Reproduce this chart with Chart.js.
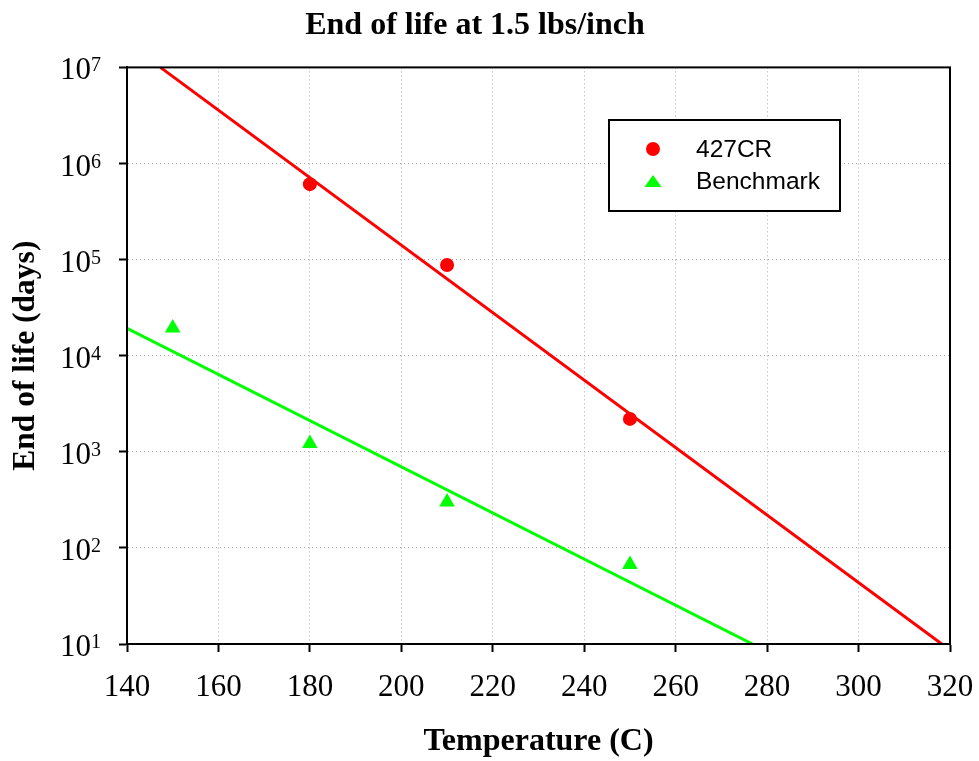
<!DOCTYPE html>
<html>
<head>
<meta charset="utf-8">
<script src="https://cdn.jsdelivr.net/npm/chart.js@4/dist/chart.umd.min.js"></script>
<style>
  html, body { margin: 0; padding: 0; background: #fff; }
  #wrap { width: 979px; height: 761px; }
</style>
</head>
<body>
<div id="wrap"><canvas id="graph" width="979" height="761"></canvas></div>
<script>
// measured points
const crTemps = [180, 210, 250];
const crLife = [610000, 88000, 2200];
const benchTemps = [150, 180, 210, 250];
const benchLife = [19400, 1220, 300, 67];

// fitted lines (end points)
const crFitTemps = [147.3, 318.2];
const crFitLife = [1e7, 10];
const benchFitTemps = [140, 276.8];
const benchFitLife = [19300, 10];

const yDecades = [10, 100, 1000, 10000, 100000, 1000000, 10000000];
const xTicks = [140, 160, 180, 200, 220, 240, 260, 280, 300, 320];

const serif = '"Liberation Serif", "Times New Roman", serif';
const sans = '"Liberation Sans", Arial, sans-serif';

const toPoints = (xs, ys) => xs.map((x, i) => ({ x: x, y: ys[i] }));

// y labels as 10 with a raised exponent
const powerLabels = {
  id: 'powerLabels',
  afterDraw(chart) {
    const ctx = chart.ctx;
    const y = chart.scales.y;
    const right = y.right - 26;
    ctx.save();
    ctx.fillStyle = '#000';
    ctx.textAlign = 'right';
    ctx.textBaseline = 'alphabetic';
    yDecades.forEach(v => {
      const py = y.getPixelForValue(v);
      const exp = String(Math.round(Math.log10(v)));
      ctx.font = '20px ' + serif;
      const ew = ctx.measureText(exp).width;
      ctx.fillText(exp, right, py + 4);
      ctx.font = '31px ' + serif;
      ctx.fillText('10', right - ew, py + 12);
    });
    ctx.restore();
  }
};

// closed frame around the plot + legend box
const frameAndLegend = {
  id: 'frameAndLegend',
  afterDraw(chart) {
    const ctx = chart.ctx;
    const a = chart.chartArea;
    ctx.save();
    ctx.strokeStyle = '#000';
    ctx.lineWidth = 2;
    ctx.strokeRect(a.left, a.top, a.right - a.left, a.bottom - a.top);

    // legend
    ctx.fillStyle = '#fff';
    ctx.fillRect(609, 120, 231, 91);
    ctx.strokeRect(609, 120, 231, 91);

    ctx.fillStyle = '#ff0000';
    ctx.beginPath();
    ctx.arc(653, 149, 7, 0, Math.PI * 2);
    ctx.fill();

    ctx.fillStyle = '#00ff00';
    ctx.beginPath();
    ctx.moveTo(653, 175);
    ctx.lineTo(661.5, 187);
    ctx.lineTo(644.5, 187);
    ctx.closePath();
    ctx.fill();

    ctx.fillStyle = '#000';
    ctx.font = '24.5px ' + sans;
    ctx.textAlign = 'left';
    ctx.textBaseline = 'middle';
    ctx.fillText('427CR', 696, 150);
    ctx.fillText('Benchmark', 696, 182);
    ctx.restore();
  }
};

const ctx = document.getElementById('graph').getContext('2d');
new Chart(ctx, {
  type: 'scatter',
  data: {
    datasets: [
      {
        label: '427CR',
        data: toPoints(crTemps, crLife),
        backgroundColor: '#ff0000',
        borderColor: '#ff0000',
        pointStyle: 'circle',
        pointRadius: 7,
        pointBorderWidth: 0
      },
      {
        label: 'Benchmark',
        data: toPoints(benchTemps, benchLife),
        backgroundColor: '#00ff00',
        borderColor: '#00ff00',
        pointStyle: 'triangle',
        pointRadius: 9,
        pointBorderWidth: 0
      },
      {
        label: '427CR fit',
        type: 'line',
        data: toPoints(crFitTemps, crFitLife),
        borderColor: '#ff0000',
        borderWidth: 3,
        pointRadius: 0,
        fill: false
      },
      {
        label: 'Benchmark fit',
        type: 'line',
        data: toPoints(benchFitTemps, benchFitLife),
        borderColor: '#00ff00',
        borderWidth: 3,
        pointRadius: 0,
        fill: false
      }
    ]
  },
  options: {
    responsive: false,
    animation: false,
    layout: { padding: { left: 0, right: 29, top: 0, bottom: 0 } },
    plugins: {
      legend: { display: false },
      tooltip: { enabled: false },
      title: {
        display: true,
        text: 'End of life at 1.5 lbs/inch',
        color: '#000',
        font: { family: serif, size: 32, weight: 'bold' },
        padding: { top: 7, bottom: 22 }
      }
    },
    scales: {
      x: {
        type: 'linear',
        min: 140,
        max: 320,
        afterBuildTicks: scale => { scale.ticks = xTicks.map(v => ({ value: v })); },
        afterFit: scale => {
          scale.height = 117;
          scale.paddingLeft = 0;
          scale.paddingRight = 0;
        },
        ticks: {
          color: '#000',
          font: { family: serif, size: 31 },
          padding: 17,
          maxRotation: 0
        },
        grid: {
          color: '#a8a8a8',
          lineWidth: 1,
          tickColor: '#000',
          tickLength: 8,
          tickWidth: 2
        },
        border: { display: true, color: '#000', width: 2, dash: [1, 3] },
        title: {
          display: true,
          text: 'Temperature (C)',
          color: '#000',
          font: { family: serif, size: 32, weight: 'bold' },
          padding: { top: 0, bottom: 0 }
        }
      },
      y: {
        type: 'logarithmic',
        min: 10,
        max: 10000000,
        afterBuildTicks: scale => { scale.ticks = yDecades.map(v => ({ value: v })); },
        afterFit: scale => { scale.width = 127; },
        ticks: { display: false },
        grid: {
          color: '#a8a8a8',
          lineWidth: 1,
          tickColor: '#000',
          tickLength: 8,
          tickWidth: 2
        },
        border: { display: true, color: '#000', width: 2, dash: [1, 3] },
        title: {
          display: true,
          text: 'End of life (days)',
          color: '#000',
          font: { family: serif, size: 31.5, weight: 'bold' },
          padding: { top: 7, bottom: 0 }
        }
      }
    }
  },
  plugins: [powerLabels, frameAndLegend]
});
</script>
</body>
</html>
